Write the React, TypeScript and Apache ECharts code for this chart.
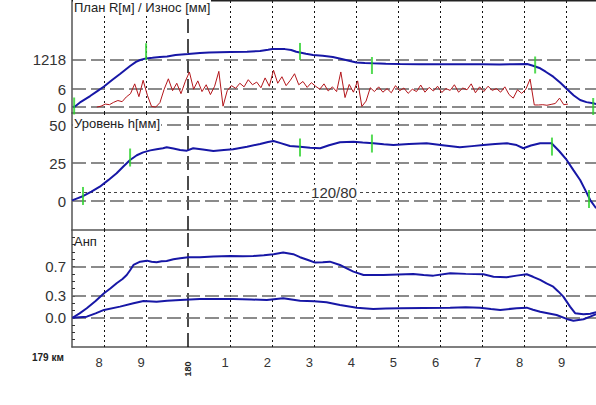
import React, { useEffect, useRef } from "react";
import * as echarts from "echarts";

// x axis in pickets counted from 179 km picket 0 (10 = 180 km)
const X_MIN = 7.239;
const X_MAX = 19.697;
const pickets = [8, 9, 10, 11, 12, 13, 14, 15, 16, 17, 18, 19];
const KM_PICKET = 10;
const kmLabel = "179 км";
const kmNextLabel = "180";

// plan: curvature 1000/R
const planPoints: [number, number][] = [
  [7.26, 0.0], [7.31, 0.01], [7.45, 0.09], [7.67, 0.19], [7.85, 0.28], [8.0, 0.355],
  [8.2, 0.47], [8.38, 0.571], [8.5, 0.64], [8.62, 0.709], [8.76, 0.78], [8.86, 0.812],
  [9.0, 0.84], [9.15, 0.85], [9.33, 0.864], [9.5, 0.872], [9.7, 0.9], [10.0, 0.916],
  [10.28, 0.935], [10.5, 0.94], [11.0, 0.95], [11.4, 0.955], [11.71, 0.968], [11.9, 0.99],
  [12.0, 1.002], [12.3, 1.0], [12.45, 0.985], [12.57, 0.955], [12.8, 0.92], [12.97, 0.899],
  [13.2, 0.885], [13.44, 0.864], [13.65, 0.83], [13.85, 0.795], [14.0, 0.77], [14.2, 0.76],
  [14.4, 0.755], [14.7, 0.748], [15.04, 0.743], [15.5, 0.74], [16.0, 0.738], [16.5, 0.741],
  [17.0, 0.738], [17.4, 0.736], [17.72, 0.738], [18.06, 0.743], [18.2, 0.714], [18.37, 0.669],
  [18.5, 0.61], [18.68, 0.524], [18.85, 0.42], [19.01, 0.306], [19.17, 0.2], [19.32, 0.122],
  [19.47, 0.085], [19.63, 0.065], [19.7, 0.053],
];
const planMarks: [number, number][] = [
  [7.29, 0.018], [9.0, 0.955], [12.66, 0.96], [14.37, 0.717], [18.25, 0.726], [19.63, 0.01],
];
const planRadius = 1218;

// wear, mm, sampled every 10 m
const wearStart = 7.83;
const wearStep = 0.1;
const wearValues = [
  0, 0.3, 1.0, 0.8, 1.6, 2.2, 1.8, 3.4, 4.5, 7.8, 3.5, 9.0, 4.0, 0.2, 0.0,
  1.5, 6.0, 9.5, 5.5, 8.0, 4.5, 8.5, 11.8, 6.0, 8.8, 5.2, 7.5, 4.2, 7.0, 12.0,
  0.3, 5.5, 7.2, 6.3, 8.0, 6.8, 9.2, 7.5, 8.4, 6.5, 9.8, 7.0, 12.4, 8.0, 10.2,
  7.2, 9.0, 11.2, 7.5, 8.6, 6.6, 8.2, 7.0, 6.0, 7.8, 5.4, 6.8, 5.2, 11.8, 3.2,
  7.6, 5.0, 8.8, 0.2, 2.0, 6.5, 5.2, 6.8, 5.0, 6.2, 4.8, 7.2, 5.5, 6.4, 4.6,
  6.0, 5.2, 7.4, 5.0, 6.6, 5.4, 7.0, 4.9, 6.2, 5.6, 7.5, 5.0, 6.4, 5.8, 7.8,
  4.8, 6.8, 5.2, 7.0, 5.6, 6.2, 5.0, 6.8, 4.2, 3.0, 5.8, 4.6, 6.0, 9.4, 0.7,
  0.7, 0.8, 0.6, 0.9, 1.2, 3.0, 0.8, 1.0,
];
const wearTicks = [0, 6];

// cross level h, mm
const levelPoints: [number, number][] = [
  [7.24, 0.5], [7.38, 2.0], [7.51, 3.4], [7.7, 6.2], [7.9, 9.5], [8.1, 13.8], [8.3, 18.3],
  [8.46, 22.8], [8.62, 27.1], [8.78, 30.2], [8.93, 32.1], [9.1, 33.4], [9.25, 34.1], [9.4, 34.8],
  [9.49, 35.4], [9.65, 34.6], [9.81, 33.6], [9.97, 33.2], [10.12, 34.8], [10.35, 34.0], [10.6, 33.0],
  [10.85, 33.6], [11.07, 34.1], [11.4, 35.8], [11.71, 37.6], [11.9, 38.9], [12.03, 39.6], [12.2, 38.2],
  [12.42, 36.3], [12.66, 35.8], [12.9, 35.2], [13.14, 34.8], [13.35, 36.8], [13.61, 38.7], [13.93, 39.1],
  [14.15, 38.6], [14.4, 38.1], [14.65, 37.4], [14.88, 36.9], [15.25, 37.6], [15.67, 38.1], [16.05, 36.8],
  [16.46, 35.4], [16.75, 36.2], [17.02, 36.9], [17.3, 37.6], [17.58, 38.1], [17.81, 36.9], [17.97, 34.8],
  [18.15, 36.6], [18.37, 38.1], [18.64, 38.1], [18.82, 33.0], [19.0, 27.1], [19.16, 20.4], [19.32, 13.9],
  [19.44, 7.4], [19.56, 0.7], [19.7, -4.7],
];
const levelMarks: [number, number][] = [
  [7.5, 3.4], [8.62, 28.7], [12.66, 35.3], [14.37, 37.9], [18.65, 35.9], [19.53, 1.4],
];
const levelTicks = [0, 25, 50];
const levelNorm = 6;
const levelNormLabel = "120/80";

// unbalanced acceleration
const anpUpper: [number, number][] = [
  [7.25, 0.0], [7.42, 0.06], [7.59, 0.13], [7.8, 0.23], [8.0, 0.335], [8.15, 0.4], [8.3, 0.472],
  [8.44, 0.53], [8.54, 0.585], [8.62, 0.65], [8.7, 0.722], [8.86, 0.767], [9.02, 0.781], [9.13, 0.765],
  [9.25, 0.759], [9.37, 0.772], [9.49, 0.777], [9.65, 0.8], [9.81, 0.814], [10.0, 0.828], [10.28, 0.828],
  [10.6, 0.838], [11.0, 0.845], [11.3, 0.84], [11.55, 0.845], [11.8, 0.855], [12.03, 0.869], [12.26, 0.891],
  [12.5, 0.869], [12.66, 0.828], [12.85, 0.79], [13.02, 0.754], [13.2, 0.76], [13.37, 0.767], [13.61, 0.722],
  [13.77, 0.675], [13.93, 0.631], [14.17, 0.585], [14.4, 0.585], [14.64, 0.585], [15.0, 0.592], [15.35, 0.599],
  [15.6, 0.585], [15.83, 0.576], [16.23, 0.609], [16.6, 0.6], [17.02, 0.595], [17.26, 0.562], [17.57, 0.554],
  [17.81, 0.576], [18.05, 0.595], [18.2, 0.56], [18.37, 0.517], [18.52, 0.47], [18.68, 0.425], [18.8, 0.36],
  [18.92, 0.289], [19.08, 0.152], [19.2, 0.062], [19.4, 0.048], [19.56, 0.056], [19.7, 0.075],
];
const anpLower: [number, number][] = [
  [7.25, 0.0], [7.59, 0.015], [7.8, 0.06], [8.0, 0.107], [8.38, 0.152], [8.7, 0.198], [8.94, 0.23],
  [9.25, 0.22], [9.5, 0.232], [9.81, 0.243], [10.28, 0.257], [10.7, 0.255], [11.07, 0.257], [11.5, 0.25],
  [11.87, 0.243], [12.26, 0.267], [12.66, 0.234], [13.0, 0.225], [13.29, 0.212], [13.61, 0.175], [14.01, 0.138],
  [14.4, 0.12], [14.7, 0.125], [15.04, 0.13], [15.6, 0.135], [16.23, 0.138], [16.6, 0.145], [16.94, 0.138],
  [17.2, 0.12], [17.42, 0.107], [17.81, 0.13], [18.05, 0.138], [18.2, 0.11], [18.37, 0.083], [18.76, 0.038],
  [19.0, -0.016], [19.16, -0.04], [19.4, -0.021], [19.56, 0.015], [19.7, 0.048],
];
const anpTicks = [0, 0.3, 0.7];
const anpMinorTicks = [-0.3, -0.2, -0.1, 0, 0.1, 0.2, 0.3, 0.4, 0.5, 0.6, 0.7, 0.8, 0.9, 1.0, 1.1];

const FONT = '"Liberation Sans", Arial, sans-serif';
const BLUE = "#1717a6";
const RED = "#b3161b";
const GREEN = "#2bd22b";
const AXIS = "#555";

const vLines = pickets.map((p) => ({
  xAxis: p,
  lineStyle:
    p === KM_PICKET
      ? { color: "#111", type: [14, 6], width: 1.5 }
      : { color: "#111", type: [2, 3], width: 1 },
}));
const hLine = (v: number) => ({
  yAxis: v,
  lineStyle: { color: "#666", type: [14, 5], width: 1.5 },
});
const markLines = (data: any[]) => ({
  silent: true,
  symbol: ["none", "none"],
  label: { show: false },
  z: 1,
  animation: false,
  data,
});

export default function App() {
  const ref = useRef<HTMLDivElement>(null);
  useEffect(() => {
    if (!ref.current) return;
    const chart = echarts.init(ref.current, undefined, { renderer: "svg" });
    const wearData = wearValues.map((w, i) => [+(wearStart + i * wearStep).toFixed(3), w]);
    const grids = [
      { left: 72, right: 0, top: 0, height: 113, outerBoundsMode: "none", containLabel: false },
      { left: 72, right: 0, top: 113, height: 117, outerBoundsMode: "none", containLabel: false },
      { left: 72, right: 0, top: 230, height: 117, outerBoundsMode: "none", containLabel: false },
    ];
    const xAxis = [0, 1, 2].map((g) => ({
      type: "value",
      gridIndex: g,
      position: "bottom",
      min: X_MIN,
      max: X_MAX,
      axisLine: { show: true, onZero: false, lineStyle: { color: AXIS, width: 1.5 } },
      axisTick: { show: false },
      splitLine: { show: false },
      axisLabel:
        g === 2
          ? {
              show: true,
              customValues: pickets,
              fontFamily: FONT,
              fontSize: 13,
              color: "#333",
              margin: 9,
              padding: [0, 10, 0, 0],
              formatter: (v: number) =>
                Math.abs(v - KM_PICKET) < 1e-6 ? "" : String(Math.round(v < KM_PICKET ? v : v - KM_PICKET)),
            }
          : { show: false },
    }));
    const yLabel = {
      fontFamily: FONT,
      fontSize: 15,
      color: "#333",
      margin: 6,
    };
    const yAxis = [
      {
        type: "value",
        gridIndex: 0,
        position: "left",
        min: -0.1027,
        max: 1.848,
        axisLine: { show: true, onZero: false, lineStyle: { color: AXIS, width: 1.5 } },
        axisTick: { show: false },
        splitLine: { show: false },
        axisLabel: {
          ...yLabel,
          customValues: [1000 / planRadius],
          formatter: (v: number) => String(Math.round(1000 / v)),
        },
      },
      {
        type: "value",
        gridIndex: 0,
        position: "left",
        offset: 0,
        min: -2,
        max: 36,
        axisLine: { show: false },
        axisTick: { show: false },
        splitLine: { show: false },
        axisLabel: { ...yLabel, customValues: wearTicks },
      },
      {
        type: "value",
        gridIndex: 1,
        position: "left",
        min: -19,
        max: 58,
        axisLine: { show: true, onZero: false, lineStyle: { color: AXIS, width: 1.5 } },
        axisTick: { show: false },
        splitLine: { show: false },
        axisLabel: { ...yLabel, customValues: levelTicks },
      },
      {
        type: "value",
        gridIndex: 2,
        position: "left",
        min: -0.4,
        max: 1.2,
        axisLine: { show: true, onZero: false, lineStyle: { color: AXIS, width: 1.5 } },
        axisTick: {
          show: true,
          inside: true,
          length: 3,
          customValues: anpMinorTicks,
          lineStyle: { color: "#333", width: 1 },
        },
        splitLine: { show: false },
        axisLabel: {
          ...yLabel,
          customValues: anpTicks,
          formatter: (v: number) => v.toFixed(1),
        },
      },
    ];
    const lineBase = {
      type: "line",
      showSymbol: false,
      symbol: "none",
      silent: true,
      z: 3,
    };
    const series: any[] = [
      {
        ...lineBase,
        name: "plan",
        xAxisIndex: 0,
        yAxisIndex: 0,
        data: planPoints,
        lineStyle: { color: BLUE, width: 2 },
        markLine: markLines([...vLines, hLine(1000 / planRadius)]),
      },
      {
        ...lineBase,
        name: "wear",
        xAxisIndex: 0,
        yAxisIndex: 1,
        data: wearData,
        lineStyle: { color: RED, width: 1 },
        markLine: markLines(wearTicks.map(hLine)),
      },
      {
        type: "scatter",
        xAxisIndex: 0,
        yAxisIndex: 0,
        data: planMarks,
        symbol: "rect",
        symbolSize: [2, 17],
        itemStyle: { color: GREEN },
        silent: true,
        z: 4,
      },
      {
        ...lineBase,
        name: "level",
        xAxisIndex: 1,
        yAxisIndex: 2,
        data: levelPoints,
        lineStyle: { color: BLUE, width: 2 },
        markLine: markLines([
          ...vLines,
          ...levelTicks.map(hLine),
          { yAxis: levelNorm, lineStyle: { color: "#444", type: [3, 3], width: 1 } },
        ]),
      },
      {
        type: "scatter",
        xAxisIndex: 1,
        yAxisIndex: 2,
        data: levelMarks,
        symbol: "rect",
        symbolSize: [2, 18],
        itemStyle: { color: GREEN },
        silent: true,
        z: 4,
      },
      {
        ...lineBase,
        name: "anpUpper",
        xAxisIndex: 2,
        yAxisIndex: 3,
        data: anpUpper,
        lineStyle: { color: BLUE, width: 2 },
        markLine: markLines([...vLines, ...anpTicks.map(hLine)]),
      },
      {
        ...lineBase,
        name: "anpLower",
        xAxisIndex: 2,
        yAxisIndex: 3,
        data: anpLower,
        lineStyle: { color: BLUE, width: 2 },
      },
    ];
    chart.setOption({
      animation: false,
      backgroundColor: "#fff",
      grid: grids,
      xAxis,
      yAxis,
      series,
    });
    const kmX = chart.convertToPixel({ xAxisIndex: 2 }, KM_PICKET) as number;
    const normY = chart.convertToPixel({ yAxisIndex: 2 }, levelNorm) as number;
    const x0 = chart.convertToPixel({ xAxisIndex: 2 }, X_MIN) as number;
    const x1 = chart.convertToPixel({ xAxisIndex: 2 }, X_MAX) as number;
    const midX = (x0 + x1) / 2;
    chart.setOption({
      graphic: [
        { type: "line", shape: { x1: 72, y1: 0.75, x2: 596, y2: 0.75 }, style: { stroke: "#222", lineWidth: 1.5 }, z: 9 },
        { type: "rect", shape: { x: 73, y: 0, width: 138, height: 14 }, style: { fill: "#fff" }, z: 10 },
        { type: "text", x: 74, y: 1, style: { text: "План R[м] / Износ [мм]", font: `13px ${FONT}`, fill: "#222" }, z: 11 },
        { type: "rect", shape: { x: 73, y: 116, width: 88, height: 16 }, style: { fill: "#fff" }, z: 10 },
        { type: "text", x: 74, y: 117, style: { text: "Уровень h[мм]", font: `13px ${FONT}`, fill: "#222" }, z: 11 },
        { type: "text", x: 74, y: 235, style: { text: "Анп", font: `13px ${FONT}`, fill: "#222" }, z: 11 },
        {
          type: "text",
          x: midX,
          y: normY,
          style: {
            text: levelNormLabel,
            font: `15px ${FONT}`,
            fill: "#333",
            align: "center",
            verticalAlign: "middle",
            backgroundColor: "#fff",
          },
          z: 11,
        },
        { type: "text", x: 32, y: 357, style: { text: kmLabel, font: `bold 10px ${FONT}`, fill: "#222", verticalAlign: "middle" }, z: 11 },
        {
          type: "text",
          x: kmX,
          y: 369,
          rotation: Math.PI / 2,
          style: { text: kmNextLabel, font: `bold 9px ${FONT}`, fill: "#222", align: "center", verticalAlign: "middle" },
          z: 11,
        },
      ],
    });
    return () => chart.dispose();
  }, []);
  return (
    <div
      ref={ref}
      style={{ position: "fixed", left: 0, top: 0, width: 596, height: 405, background: "#fff" }}
    />
  );
}
